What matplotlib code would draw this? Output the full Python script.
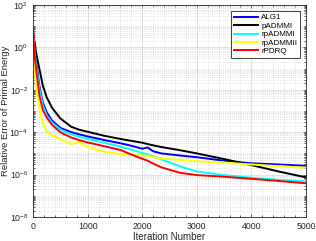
import numpy as np
import matplotlib
matplotlib.use("Agg")
import matplotlib.pyplot as plt
from matplotlib.ticker import LogLocator, NullFormatter, MultipleLocator

plt.rcParams['font.family'] = ['Liberation Sans', 'DejaVu Sans']

iters = [1, 30, 60, 120, 180, 250, 350, 500, 700, 850, 1000, 1300, 1600,
         1800, 2000, 2100, 2200, 2350, 2700, 3000, 3500, 4000, 4500, 5000]

alg1 = [6.3, 1.0, 0.18, 1.4e-2, 2.5e-3, 8.9e-4, 3.5e-4, 1.6e-4, 1.0e-4, 7.9e-5, 6.3e-5, 4.3e-5, 3.0e-5,
        2.3e-5, 1.66e-5, 1.9e-5, 1.26e-5, 1.0e-5, 7.9e-6, 6.6e-6, 4.5e-6, 3.4e-6, 3.0e-6, 2.6e-6]
padmmi = [5.0, 1.58, 0.50, 8.9e-2, 1.58e-2, 4.5e-3, 1.4e-3, 4.5e-4, 1.8e-4, 1.3e-4, 1.05e-4, 6.8e-5, 4.8e-5,
          3.9e-5, 3.2e-5, 2.75e-5, 2.4e-5, 2.0e-5, 1.4e-5, 1.0e-5, 5.4e-6, 2.8e-6, 1.4e-6, 7.4e-7]
rpadmmi = [5.6, 0.63, 0.126, 1.0e-2, 1.8e-3, 6.3e-4, 2.8e-4, 1.35e-4, 7.9e-5, 6.0e-5, 4.8e-5, 3.2e-5, 2.1e-5,
           1.5e-5, 1.05e-5, 8.9e-6, 7.4e-6, 5.2e-6, 2.4e-6, 1.4e-6, 9.5e-7, 7.1e-7, 5.6e-7, 4.7e-7]
rpadmmii = [4.0, 0.1, 1.26e-2, 1.26e-3, 2.8e-4, 1.1e-4, 7.1e-5, 4.7e-5, 2.8e-5, 3.3e-5, 2.0e-5, 1.2e-5, 9.3e-6,
            8.7e-6, 8.3e-6, 7.6e-6, 6.8e-6, 5.6e-6, 5.0e-6, 4.3e-6, 3.7e-6, 3.0e-6, 2.5e-6, 2.1e-6]
rpdrq = [7.1, 0.40, 7.9e-2, 5.0e-3, 1.1e-3, 5.0e-4, 2.2e-4, 1.0e-4, 5.6e-5, 4.2e-5, 3.3e-5, 2.2e-5, 1.45e-5,
         8.9e-6, 5.6e-6, 4.5e-6, 3.3e-6, 2.2e-6, 1.2e-6, 9.5e-7, 7.9e-7, 6.3e-7, 5.0e-7, 3.9e-7]

names = ['ALG1', 'pADMMI', 'rpADMMI', 'rpADMMII', 'rPDRQ']
colors = ['#0000ff', '#000000', '#00ffff', '#ffff00', '#ff0000']

fig = plt.figure(figsize=(3.16, 2.41), dpi=100)
ax = fig.add_axes([0.1044, 0.0996, 0.864, 0.8797])

for ys, name, c in zip([alg1, padmmi, rpadmmi, rpadmmii, rpdrq], names, colors):
    ax.semilogy(iters, ys, color=c, lw=1.4, label=name)

ax.set_xlim(0, 5000)
ax.set_ylim(1e-8, 1e2)
ax.set_xticks([0, 1000, 2000, 3000, 4000, 5000])
ax.xaxis.set_minor_locator(MultipleLocator(200))
ax.set_yticks([1e-8, 1e-6, 1e-4, 1e-2, 1e0, 1e2])
ax.yaxis.set_minor_locator(LogLocator(base=10, subs=np.arange(1, 10), numticks=30))
ax.yaxis.set_minor_formatter(NullFormatter())

ax.grid(True, which='major', color='#dcdcdc', lw=0.6)
ax.grid(True, which='minor', color='#d0d0d0', lw=0.5, ls=':')
ax.set_axisbelow(True)

ax.tick_params(which='both', direction='in', top=True, right=True, colors='#262626',
               labelsize=6.3, length=2.5, width=0.5)
ax.tick_params(which='minor', length=1.5)
for s in ax.spines.values():
    s.set_color('#262626')
    s.set_linewidth(0.6)

ax.set_xlabel('Iteration Number', fontsize=7, color='#262626', labelpad=1)
ax.set_ylabel('Relative Error of Primal Energy', fontsize=6.8, color='#262626')
ax.yaxis.set_label_coords(-0.085, 0.5)

leg = ax.legend(loc='upper right', fontsize=5.8, handlelength=3.0, labelspacing=0.1,
                fancybox=False, framealpha=1, edgecolor='#262626',
                borderpad=0.3, handletextpad=0.4, borderaxespad=0.8)
leg.get_frame().set_linewidth(0.6)

plt.savefig('out.png', dpi=100)
